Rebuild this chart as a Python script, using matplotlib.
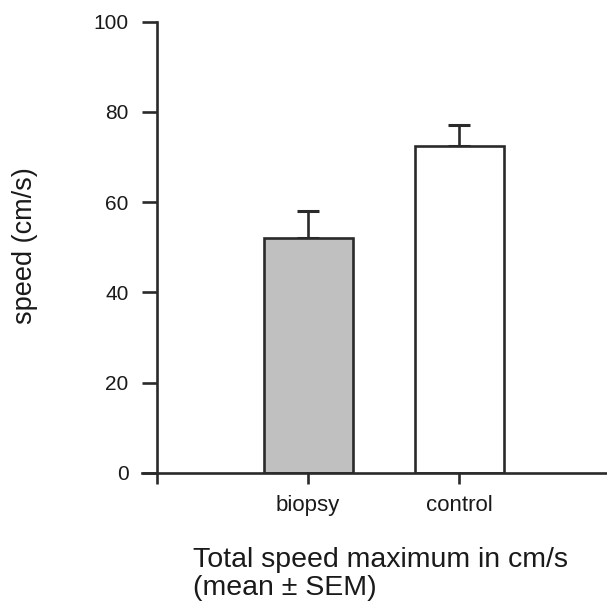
import matplotlib
matplotlib.use("Agg")
import matplotlib.pyplot as plt

# data
groups = ["biopsy", "control"]
means = [52.1, 72.5]
sem = [5.9, 4.7]
bar_colors = ["#c0c0c0", "#ffffff"]
yticks = [0, 20, 40, 60, 80, 100]

plt.rcParams["font.family"] = ["Liberation Sans", "DejaVu Sans"]
edge = "#2a2a2a"
txt = "#1a1a1a"

fig = plt.figure(figsize=(6.07, 6.10), dpi=100)
ax = fig.add_axes([0.234, 0.225, 0.766, 0.7394])

pos = [1, 2]
ax.bar(pos, means, width=0.59, color=bar_colors, edgecolor=edge, linewidth=1.9, zorder=2)
ax.errorbar(pos, means, yerr=[[0, 0], sem], fmt="none", ecolor=edge,
            elinewidth=1.9, capsize=8, capthick=2.2, zorder=1)

ax.set_xlim(-0.1, 2.98)
ax.set_ylim(0, 100)
ax.spines["top"].set_visible(False)
ax.spines["right"].set_visible(False)
ax.spines["left"].set_position(("data", 0))
ax.spines["left"].set_bounds(0, 100)
for s in ("left", "bottom"):
    ax.spines[s].set_color(edge)
    ax.spines[s].set_linewidth(1.9)

ax.set_yticks(yticks)
ax.tick_params(axis="y", direction="out", length=11, width=1.9, color=edge,
               labelsize=15, pad=9.5, labelcolor=txt)
ax.set_xticks([0] + pos)
ax.set_xticklabels([""] + groups)
ax.tick_params(axis="x", direction="out", length=8, width=1.9, color=edge,
               labelsize=16, pad=8, labelcolor=txt)

fig.text(0.041, 0.598, "speed (cm/s)", rotation=90, va="center", ha="center",
         fontsize=19.5, color=txt)
fig.text(0.318, 0.103, "Total speed maximum in cm/s\n(mean \u00b1 SEM)", ha="left",
         va="top", fontsize=20.5, linespacing=1.1, color=txt)

fig.savefig("out.png", dpi=100)
